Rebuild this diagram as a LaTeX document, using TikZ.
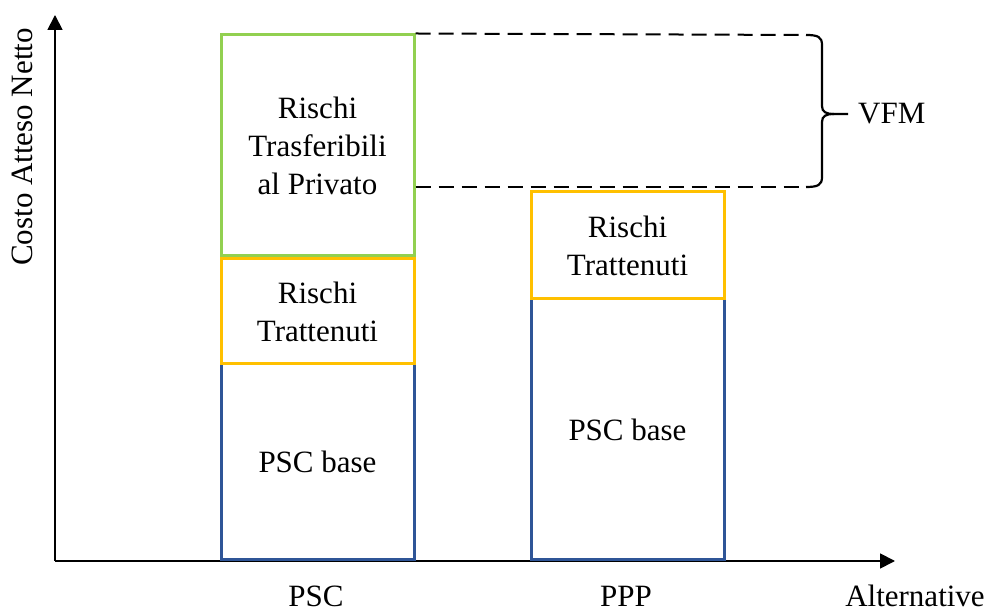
\documentclass[tikz,border=0pt]{standalone}
\usepackage{fontspec}
\setmainfont{Liberation Serif}
\newfontfamily\diagfont{Liberation Serif}
\usetikzlibrary{arrows.meta}
\definecolor{riskgreen}{RGB}{146,208,80}
\definecolor{riskorange}{RGB}{255,192,0}
\definecolor{baseblue}{RGB}{47,85,151}
\begin{document}
\begin{tikzpicture}[x=1pt,y=1pt,
  bigtext/.style={font=\diagfont\fontsize{31}{38}\selectfont},
  bar/.style={bigtext, draw, line width=3pt, minimum width=193pt, inner sep=0pt, align=center},
  lbl/.style={bigtext, inner sep=0pt},
  axisline/.style={line width=1.8pt, -{Triangle[length=15pt,width=15pt]}},
  gapline/.style={line width=2pt, dash pattern=on 15pt off 8pt},
  braceline/.style={line width=2.2pt}
]
\useasboundingbox (0,0) rectangle (987,612);

% axes
\coordinate (orig) at (55,51);
\coordinate (ytip) at (55,597);
\coordinate (xtip) at (895,51);
\draw[axisline] (orig) -- (ytip);
\draw[axisline] (orig) -- (xtip);

% PSC column
\node[bar, draw=baseblue, minimum height=196pt] (pscbase) at (317.5,150) {PSC base};
\node[bar, draw=riskorange, minimum height=105pt] (pscret) at (317.5,300.5) {Rischi\\Trattenuti};
\node[bar, draw=riskgreen, minimum height=221pt] (psctrans) at (317.5,466.5) {Rischi\\Trasferibili\\al Privato};

% PPP column
\node[bar, draw=baseblue, minimum height=261pt] (pppbase) at (627.5,182.5) {PSC base};
\node[bar, draw=riskorange, minimum height=107pt] (pppret) at (627.5,366.5) {Rischi\\Trattenuti};

% value-for-money gap
\coordinate (gtop) at (806,577);
\coordinate (gbot) at (806,425);
\coordinate (btip) at (848,498);
\draw[gapline] (psctrans.north east) -- (gtop);
\draw[gapline] (psctrans.east |- gbot) -- (gbot);
\draw[braceline] (gtop) .. controls (818,577) and (822,575) .. (822,567)
  -- (822,506) .. controls (822,500) and (826,498) .. (834,498) -- (btip);
\draw[braceline] (834,498) .. controls (826,498) and (822,496) .. (822,490)
  -- (822,435) .. controls (822,427) and (818,425) .. (gbot);
\node[lbl, anchor=west] (vfm) at (858,498) {VFM};

% axis labels
\node[lbl, anchor=base] (lpsc) at (316,5) {PSC};
\node[lbl, anchor=base] (lppp) at (626,5) {PPP};
\node[lbl, anchor=base] (lalt) at (915,5) {Alternative};
\node[lbl, rotate=90] (ylab) at (22,465) {Costo Atteso Netto};
\end{tikzpicture}
\end{document}
